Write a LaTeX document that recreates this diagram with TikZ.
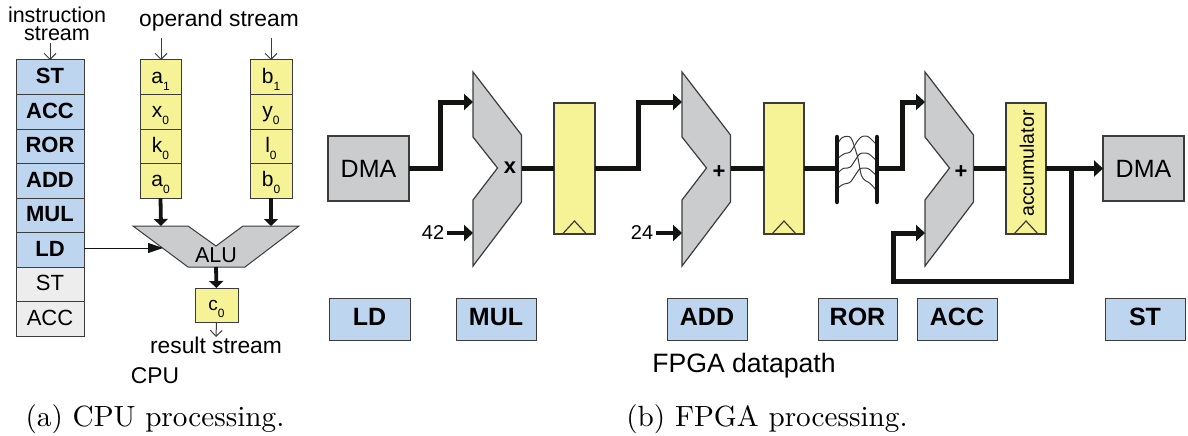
\documentclass[tikz,border=0pt]{standalone}
\usepackage{fontspec}
\setsansfont{Liberation Sans}
\usetikzlibrary{arrows.meta,calc}
\definecolor{ibl}{HTML}{BDD5EE}
\definecolor{igr}{HTML}{EDEDED}
\definecolor{yel}{HTML}{F6F397}
\definecolor{mgr}{HTML}{CBCCCE}
\definecolor{edg}{HTML}{3C3C3C}
\definecolor{wir}{HTML}{111410}
\newcommand{\sbs}[1]{\raisebox{-7pt}{\fontsize{12}{12}\selectfont #1}}
\tikzset{
  x=1pt,y=-1pt,
  every node/.style={inner sep=0pt,outer sep=0pt,font=\sffamily},
  instr/.style={draw=edg,line width=1pt,fill=ibl,text height=16pt,text depth=4pt,font=\sffamily\bfseries\fontsize{22}{22}\selectfont},
  instrg/.style={draw=edg,line width=1pt,fill=igr,text height=16pt,text depth=4pt,font=\sffamily\fontsize{22}{22}\selectfont},
  opnd/.style={draw=edg,line width=1pt,fill=yel,text height=15pt,text depth=4pt,font=\sffamily\fontsize{21}{21}\selectfont},
  lab/.style={font=\sffamily\fontsize{21.5}{21.5}\selectfont},
  labb/.style={font=\sffamily\fontsize{22.8}{22.8}\selectfont},
  capt/.style={scale=2.92,font=\rmfamily\fontsize{10}{10}\selectfont},
  block/.style={draw=edg,line width=1.2pt,fill=mgr},
  reg/.style={draw=edg,line width=1.2pt,fill=yel},
  thin/.style={draw=edg,line width=1pt,-{Straight Barb[length=6pt,width=12pt]}},
  thickar/.style={draw=wir,line width=5pt,-{Triangle[length=9pt,width=16pt]}},
  straightw/.style={draw=wir,line width=5.5pt},
  midar/.style={draw=wir,line width=3.8pt,-{Triangle[length=7pt,width=14pt]}},
  twist/.style={draw=edg,line width=1pt,rounded corners=2.5pt},
}
\begin{document}
\begin{tikzpicture}
\useasboundingbox (0,0) rectangle (1188,436);
% instruction column
\node[instr,minimum width=68pt,minimum height=35pt] (i1) at (50,77.5) {ST};
\node[instr,minimum width=68pt,minimum height=34.5pt] (i2) at (50,112) {ACC};
\node[instr,minimum width=68pt,minimum height=34.5pt] (i3) at (50,146.5) {ROR};
\node[instr,minimum width=68pt,minimum height=34.5pt] (i4) at (50,181) {ADD};
\node[instr,minimum width=68pt,minimum height=34.5pt] (i5) at (50,215.5) {MUL};
\node[instr,minimum width=68pt,minimum height=34.5pt] (i6) at (50,250) {LD};
\node[instrg,minimum width=68pt,minimum height=34.5pt] (i7) at (50,284.5) {ST};
\node[instrg,minimum width=68pt,minimum height=34.5pt] (i8) at (50,319) {ACC};
% operands
\node[opnd,minimum width=41pt,minimum height=35pt] (a1) at (160.5,77.5) {a\sbs{1}};
\node[opnd,minimum width=41pt,minimum height=34.5pt] (a2) at (160.5,112) {x\sbs{0}};
\node[opnd,minimum width=41pt,minimum height=34.5pt] (a3) at (160.5,146.5) {k\sbs{0}};
\node[opnd,minimum width=41pt,minimum height=34.5pt] (a4) at (160.5,181) {a\sbs{0}};
\node[opnd,minimum width=42pt,minimum height=35pt] (b1) at (271,77.5) {b\sbs{1}};
\node[opnd,minimum width=42pt,minimum height=34.5pt] (b2) at (271,112) {y\sbs{0}};
\node[opnd,minimum width=42pt,minimum height=34.5pt] (b3) at (271,146.5) {l\sbs{0}};
\node[opnd,minimum width=42pt,minimum height=34.5pt] (b4) at (271,181) {b\sbs{0}};
% ALU
\draw[block,line width=1pt] (133,226) -- (188,226) -- (216,246) -- (243,226) -- (299,226) -- (245,267) -- (188,267) -- cycle;
\node[lab] (alu) at (216,255) {ALU};
\coordinate (alua) at (161,226);
\coordinate (alub) at (271,226);
\coordinate (aluo) at (216,267);
\coordinate (alui) at (163,248);
\node[opnd,minimum width=43pt,minimum height=34pt,font=\sffamily\fontsize{19}{19}\selectfont] (c0) at (216.5,305) {c\sbs{0}};
\draw[midar] (a4.south) -- (alua);
\draw[midar] (b4.south) -- (alub);
\draw[midar] (aluo) -- (c0.north);
\draw[draw=wir,line width=1pt,-{Triangle[length=15pt,width=10pt]}] (i6.east |- alui) -- (alui);
\node[lab,align=center,font=\sffamily\fontsize{21.5}{18}\selectfont] (t1) at (57,24) {instruction\\stream};
\node[labb] (t3) at (219,21) {operand stream};
\node[labb] (t4) at (216,345) {result stream};
\node[labb] (t5) at (155,376) {CPU};
\coordinate (t2a) at (50,43);
\coordinate (t3a) at (161,38);
\coordinate (t3b) at (271,38);
\coordinate (t4a) at (216,337);
\draw[thin] (t2a) -- (t2a |- i1.north);
\draw[thin] (t3a) -- (t3a |- a1.north);
\draw[thin] (t3b) -- (t3b |- b1.north);
\draw[thin] (c0.south) -- (t4a);
\node[capt] (c1) at (155,419) {(a) CPU processing.};
\node[capt] (c2) at (767,419) {(b) FPGA processing.};
% FPGA
\node[block,minimum width=81pt,minimum height=65pt,font=\sffamily\fontsize{25}{25}\selectfont] (d1) at (368.5,168.5) {DMA};
\node[block,minimum width=81pt,minimum height=65pt,font=\sffamily\fontsize{25}{25}\selectfont] (d2) at (1143.5,168.5) {DMA};
\foreach \n/\x in {m1/473,m2/682,m3/925}{
  \draw[block] (\x,72) -- ($(\x,135)+(48.5,0)$) -- ($(\x,202)+(48.5,0)$) -- (\x,266) -- (\x,200) -- ($(\x,168)+(24.5,0)$) -- (\x,137) -- cycle;
  \coordinate (\n t) at (\x,102);
  \coordinate (\n b) at (\x,233);
  \coordinate (\n o) at ($(\x,168.5)+(48.5,0)$);
}
\node[font=\sffamily\bfseries\fontsize{22}{22}\selectfont] (mx) at (510,168) {x};
\node[font=\sffamily\bfseries\fontsize{22}{22}\selectfont] (p1) at (719,172) {+};
\node[font=\sffamily\bfseries\fontsize{22}{22}\selectfont] (p2) at (961,172) {+};
\node[font=\sffamily\fontsize{20}{20}\selectfont] (n42) at (433,233) {42};
\node[font=\sffamily\fontsize{20}{20}\selectfont] (n24) at (642,233) {24};
% registers
\foreach \n/\x/\w in {r1/554/41,r2/764/40,r3/1006/40}{
  \node[reg,minimum width=\w pt,minimum height=131pt,anchor=north west] (\n) at (\x,103) {};
  \draw[edg,line width=1.2pt] ($(\n.south)+(-12,0)$) -- ($(\n.south)+(0,-13)$) -- ($(\n.south)+(12,0)$);
}
\node[rotate=90,font=\sffamily\fontsize{19.5}{19.5}\selectfont] (acc) at (1027,163.5) {accumulator};
% ROR wiring
\coordinate (rl) at (837,168.5); \coordinate (rr) at (877,168.5);
\draw[twist] (838,143) -- (842,137) -- (850,136) -- (853,142) -- (858,158) -- (861,175) -- (864,180) -- (870,183) -- (876,190);
\draw[twist] (838,158) -- (845,153) -- (850,153) -- (858,140) -- (862,136) -- (868,136) -- (876,144);
\draw[twist] (838,173) -- (843,168) -- (850,168) -- (860,153) -- (868,153) -- (876,160);
\draw[twist] (838,188) -- (843,184) -- (850,183) -- (860,168) -- (868,168) -- (876,175);
\draw[wir,line width=4.5pt,line cap=round] (837,137) -- (837,202);
\draw[wir,line width=4.5pt,line cap=round] (877,137) -- (877,202);
% wires
\draw[thickar] (d1.east) -- +(31,0) |- (m1t);
\draw[straightw] (m1o) -- (m1o -| r1.west);
\draw[thickar] (r1.east |- m1o) -- (638,168.5) |- (m2t);
\draw[straightw] (m2o) -- (m2o -| r2.west);
\draw[straightw] (r2.east |- m2o) -- (rl);
\draw[thickar] (rr) -- (902,168.5) |- (m3t);
\draw[straightw] (m3o) -- (m3o -| r3.west);
\draw[thickar] (r3.east |- m3o) -- (d2.west);
\draw[thickar] (1071,168.5) |- (893,281) |- (m3b);
\draw[thickar,line width=4pt] (n42.east) ++(3,0) -- (m1b);
\draw[thickar,line width=4pt] (n24.east) ++(3,0) -- (m2b);
% labels
\foreach \n/\x/\w/\t in {l1b/369.5/81/LD,l2b/496/80/MUL,l3b/707/80/ADD,l4b/857.5/79/ROR,l5b/957/80/ACC,l6b/1145/80/ST}{
  \node[instr,minimum width=\w pt,minimum height=42pt,font=\sffamily\bfseries\fontsize{25}{25}\selectfont] (\n) at (\x,319) {\t};
}
\node[font=\sffamily\fontsize{26.6}{26.6}\selectfont] (fp) at (744,366) {FPGA datapath};
\end{tikzpicture}
\end{document}
